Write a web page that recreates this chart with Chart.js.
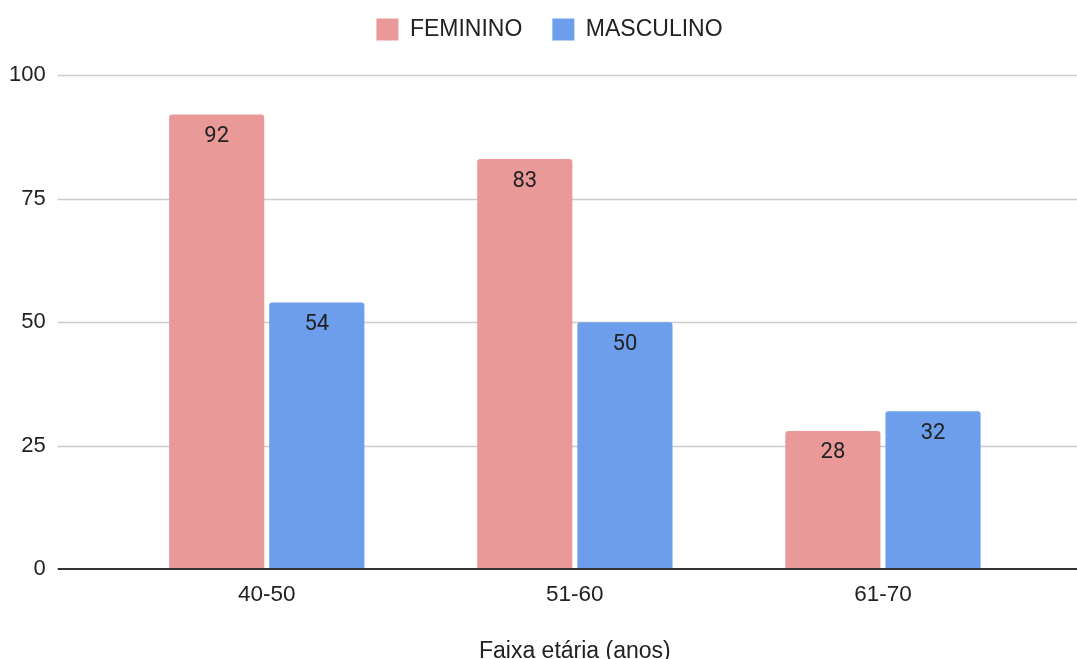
<!DOCTYPE html>
<html lang="pt">
<head>
<meta charset="UTF-8">
<title>Faixa etária por sexo</title>
<script src="https://cdn.jsdelivr.net/npm/chart.js"></script>
<style>
    html, body { margin: 0; padding: 0; background: #fff; }
    #wrap { width: 1077px; height: 659px; position: relative; }
</style>
</head>
<body>
<div id="wrap"><canvas id="grafico"></canvas></div>
<script>
    // dados
    const faixas = ['40-50', '51-60', '61-70'];
    const feminino = [92, 83, 28];
    const masculino = [54, 50, 32];
    const yMax = 100;
    const yPasso = 25;

    const corFem = '#ea9999';
    const corMasc = '#6d9eeb';
    const corTexto = '#222';

    // legenda: mais espaço abaixo dela, desenhada mais acima e centrada na página
    const legendGap = {
        id: 'legendGap',
        beforeInit(chart) {
            const lg = chart.legend;
            const fitOrig = lg.fit;
            const drawOrig = lg.draw;
            lg.fit = function () {
                fitOrig.call(this);
                this.height += 12;
            };
            lg.draw = function () {
                this.top -= 12;
                this.left += 60;
                this.right += 60;
                drawOrig.call(this);
                this.top += 12;
                this.left -= 60;
                this.right -= 60;
            };
        }
    };

    // linhas de grade que passam da área do gráfico, e eixo zero
    const gradeLarga = {
        id: 'gradeLarga',
        beforeDatasetsDraw(chart) {
            const { ctx, chartArea, scales } = chart;
            ctx.save();
            ctx.strokeStyle = '#cccccc';
            ctx.lineWidth = 1.5;
            scales.y.ticks.forEach(t => {
                if (t.value === 0) return;
                const py = Math.round(scales.y.getPixelForValue(t.value)) + 0.5;
                ctx.beginPath();
                ctx.moveTo(chartArea.left - 55, py);
                ctx.lineTo(chart.width, py);
                ctx.stroke();
            });
            ctx.restore();
        },
        afterDatasetsDraw(chart) {
            const { ctx, chartArea, scales } = chart;
            ctx.save();
            const py0 = Math.round(scales.y.getPixelForValue(0));
            ctx.strokeStyle = '#333';
            ctx.lineWidth = 2;
            ctx.beginPath();
            ctx.moveTo(chartArea.left - 55, py0);
            ctx.lineTo(chart.width, py0);
            ctx.stroke();

            // rótulos de valor dentro das barras
            ctx.fillStyle = corTexto;
            ctx.font = '22px Roboto';
            ctx.textAlign = 'center';
            ctx.textBaseline = 'middle';
            chart.data.datasets.forEach((ds, i) => {
                chart.getDatasetMeta(i).data.forEach((bar, j) => {
                    ctx.fillText(String(ds.data[j]), bar.x, bar.y + 22);
                });
            });
            ctx.restore();
        }
    };

    new Chart(document.getElementById('grafico'), {
        type: 'bar',
        data: {
            labels: faixas,
            datasets: [
                { label: 'FEMININO', data: feminino, backgroundColor: corFem },
                { label: 'MASCULINO', data: masculino, backgroundColor: corMasc }
            ]
        },
        options: {
            responsive: true,
            maintainAspectRatio: false,
            animation: false,
            categoryPercentage: 0.65,
            barPercentage: 0.95,
            borderRadius: { topLeft: 3, topRight: 3 },
            layout: { padding: { top: 0, left: -58, right: 40, bottom: -6 } },
            plugins: {
                tooltip: { enabled: false },
                legend: {
                    position: 'top',
                    labels: {
                        boxWidth: 22,
                        boxHeight: 22,
                        padding: 30,
                        color: corTexto,
                        font: { family: 'Arial, "Liberation Sans"', size: 23 }
                    }
                }
            },
            scales: {
                x: {
                    grid: { display: false, drawTicks: false },
                    border: { display: false },
                    ticks: {
                        color: corTexto,
                        padding: 12,
                        font: { family: 'Arial, "Liberation Sans"', size: 22.5 }
                    },
                    title: {
                        display: true,
                        text: 'Faixa etária (anos)',
                        color: corTexto,
                        padding: { top: 17, bottom: 0 },
                        font: { family: 'Arial, "Liberation Sans"', size: 23 }
                    }
                },
                y: {
                    min: 0,
                    max: yMax,
                    grid: { display: false, drawTicks: false },
                    border: { display: false },
                    ticks: {
                        stepSize: yPasso,
                        color: corTexto,
                        padding: 67,
                        font: { family: 'Arial, "Liberation Sans"', size: 22 }
                    },
                    // o padding dos ticks não deve empurrar a área do gráfico para baixo
                    afterFit(axis) {
                        axis.paddingTop = 13;
                        axis.paddingBottom = 13;
                    }
                }
            }
        },
        plugins: [legendGap, gradeLarga]
    });
</script>
</body>
</html>
